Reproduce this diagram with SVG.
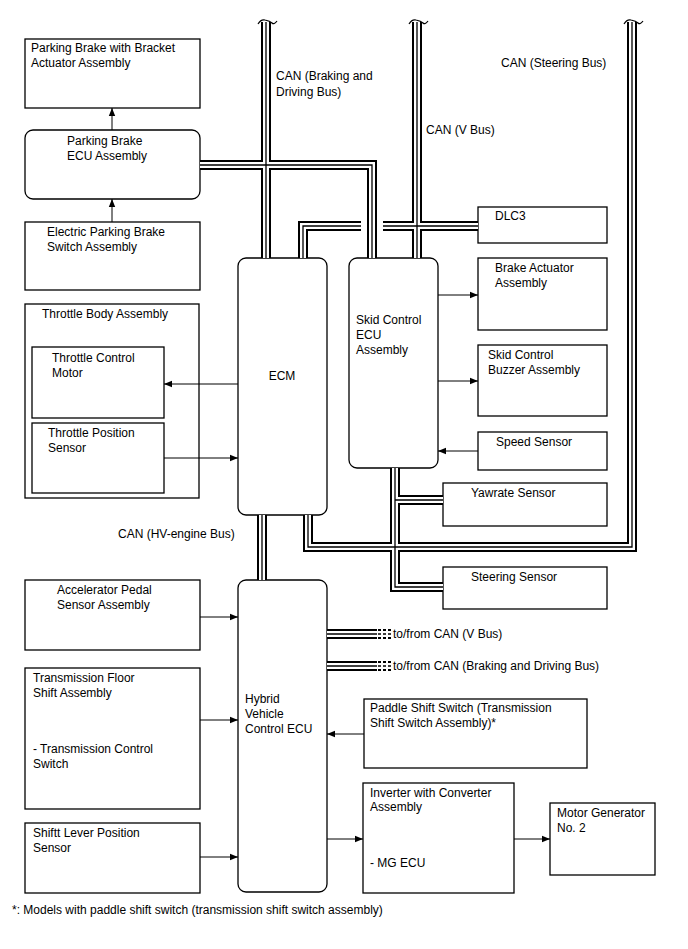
<svg xmlns="http://www.w3.org/2000/svg" xmlns:xlink="http://www.w3.org/1999/xlink" width="688" height="949" viewBox="0 0 688 949">
<style>
text{font-family:"Liberation Sans",Arial,sans-serif;font-size:12px;fill:#000}
.box{fill:#fff;stroke:#000;stroke-width:1.3}
.line{fill:none;stroke:#000;stroke-width:1}
.b1{fill:none;stroke:#000;stroke-width:10;stroke-linejoin:miter}
.b2{fill:none;stroke:#fff;stroke-width:6;stroke-linejoin:miter}
.b3{fill:none;stroke:#000;stroke-width:1.3;stroke-linejoin:miter}
.dash{fill:none;stroke:#000;stroke-dasharray:3 2}
.cap{fill:none;stroke:#000;stroke-width:1.2}
</style>
<defs>
<marker id="arr" viewBox="0 0 8 8" refX="8" refY="4" markerWidth="8" markerHeight="8" markerUnits="userSpaceOnUse" orient="auto">
<path d="M0,0.8 L8,4 L0,7.2 Z" fill="#000"/>
</marker>
<path id="buspath" d="M266 22 V258 M200 165 H372 V258 M417 22 V258 M478 226 H383 M361 226 H303 V258 M632 22 V547 H308 V515 M262 515 V580 M395 468 V587 H443 M395 500 H443 M327 634 H377 M327 666 H377"/>
</defs>

<g id="pb-actuator"><rect class="box" x="25" y="39" width="175" height="69"/><text x="31" y="52">Parking Brake with Bracket</text><text x="31" y="67">Actuator Assembly</text></g>
<g id="pb-ecu"><rect class="box" x="25" y="130" width="175" height="69" rx="8"/><text x="67" y="145">Parking Brake</text><text x="67" y="160">ECU Assembly</text></g>
<g id="epb-switch"><rect class="box" x="25" y="222" width="175" height="68"/><text x="47" y="236">Electric Parking Brake</text><text x="47" y="251">Switch Assembly</text></g>

<g id="throttle-body"><rect class="box" x="25" y="304" width="174" height="194"/><text x="42" y="318">Throttle Body Assembly</text></g>
<g id="throttle-motor"><rect class="box" x="32" y="347" width="132" height="71"/><text x="52" y="362">Throttle Control</text><text x="52" y="377">Motor</text></g>
<g id="throttle-sensor"><rect class="box" x="32" y="423" width="132" height="70"/><text x="48" y="437">Throttle Position</text><text x="48" y="452">Sensor</text></g>

<g id="ecm"><rect class="box" x="238" y="258" width="89" height="257" rx="8"/><text x="282" y="380" text-anchor="middle">ECM</text></g>
<g id="skid-ecu"><rect class="box" x="349" y="258" width="89" height="210" rx="8"/><text x="356" y="324">Skid Control</text><text x="356" y="339">ECU</text><text x="356" y="354">Assembly</text></g>

<g id="dlc3"><rect class="box" x="478" y="207" width="129" height="36"/><text x="495" y="220">DLC3</text></g>
<g id="brake-actuator"><rect class="box" x="478" y="258" width="129" height="72"/><text x="495" y="272">Brake Actuator</text><text x="495" y="287">Assembly</text></g>
<g id="buzzer"><rect class="box" x="478" y="345" width="129" height="71"/><text x="488" y="359">Skid Control</text><text x="488" y="374">Buzzer Assembly</text></g>
<g id="speed-sensor"><rect class="box" x="478" y="432" width="129" height="38"/><text x="496" y="446">Speed Sensor</text></g>
<g id="yawrate"><rect class="box" x="443" y="483" width="164" height="43"/><text x="471" y="497">Yawrate Sensor</text></g>
<g id="steering"><rect class="box" x="443" y="567" width="164" height="42"/><text x="471" y="581">Steering Sensor</text></g>

<g id="accel"><rect class="box" x="25" y="580" width="175" height="70"/><text x="57" y="594">Accelerator Pedal</text><text x="57" y="609">Sensor Assembly</text></g>
<g id="floor-shift"><rect class="box" x="25" y="668" width="175" height="141"/><text x="33" y="682">Transmission Floor</text><text x="33" y="697">Shift Assembly</text><text x="33" y="753">- Transmission Control</text><text x="33" y="768">Switch</text></g>
<g id="shift-lever"><rect class="box" x="25" y="823" width="175" height="70"/><text x="33" y="837">Shiftt Lever Position</text><text x="33" y="852">Sensor</text></g>

<g id="hv-ecu"><rect class="box" x="238" y="580" width="89" height="312" rx="8"/><text x="245" y="703">Hybrid</text><text x="245" y="718">Vehicle</text><text x="245" y="733">Control ECU</text></g>
<g id="paddle"><rect class="box" x="364" y="699" width="223" height="69"/><text x="370" y="712">Paddle Shift Switch (Transmission</text><text x="370" y="727">Shift Switch Assembly)*</text></g>
<g id="inverter"><rect class="box" x="363" y="783" width="151" height="110"/><text x="370" y="797">Inverter with Converter</text><text x="370" y="811">Assembly</text><text x="370" y="867">- MG ECU</text></g>
<g id="mg2"><rect class="box" x="550" y="803" width="105" height="72"/><text x="557" y="817">Motor Generator</text><text x="557" y="832">No. 2</text></g>

<g id="connectors">
<use xlink:href="#buspath" class="b1"/>
<use xlink:href="#buspath" class="b2"/>
<use xlink:href="#buspath" class="b3"/>
<g id="stubs">
<path class="dash" stroke-width="2" d="M378 630 H392 M378 638 H392 M378 662 H392 M378 670 H392"/>
<path class="dash" stroke-width="1.3" d="M378 634 H392 M378 666 H392"/>
</g>
<g id="caps">
<path class="cap" d="M258 24 Q261 19 265 20 Q270 21 272 23 Q274 25 277 21"/>
<path class="cap" d="M409 24 Q412 19 416 20 Q421 21 423 23 Q425 25 428 21"/>
<path class="cap" d="M624 24 Q627 19 631 20 Q636 21 638 23 Q640 25 643 21"/>
</g>
<path class="line" marker-end="url(#arr)" d="M112 130 V108"/>
<path class="line" marker-end="url(#arr)" d="M112 222 V199"/>
<path class="line" marker-end="url(#arr)" d="M238 384 H164"/>
<path class="line" marker-end="url(#arr)" d="M164 458 H238"/>
<path class="line" marker-end="url(#arr)" d="M438 295 H478"/>
<path class="line" marker-end="url(#arr)" d="M438 381 H478"/>
<path class="line" marker-end="url(#arr)" d="M478 451 H438"/>
<path class="line" marker-end="url(#arr)" d="M200 617 H238"/>
<path class="line" marker-end="url(#arr)" d="M200 720 H238"/>
<path class="line" marker-end="url(#arr)" d="M200 857 H238"/>
<path class="line" marker-end="url(#arr)" d="M364 734 H327"/>
<path class="line" marker-end="url(#arr)" d="M327 839 H363"/>
<path class="line" marker-end="url(#arr)" d="M514 839 H550"/>
</g>

<g id="bus-labels">
<text x="276" y="80">CAN (Braking and</text>
<text x="276" y="96">Driving Bus)</text>
<text x="426" y="134">CAN (V Bus)</text>
<text x="501" y="67">CAN (Steering Bus)</text>
<text x="118" y="538">CAN (HV-engine Bus)</text>
<text x="393" y="638">to/from CAN (V Bus)</text>
<text x="393" y="670">to/from CAN (Braking and Driving Bus)</text>
</g>

<text x="12" y="914">*: Models with paddle shift switch (transmission shift switch assembly)</text>
</svg>
